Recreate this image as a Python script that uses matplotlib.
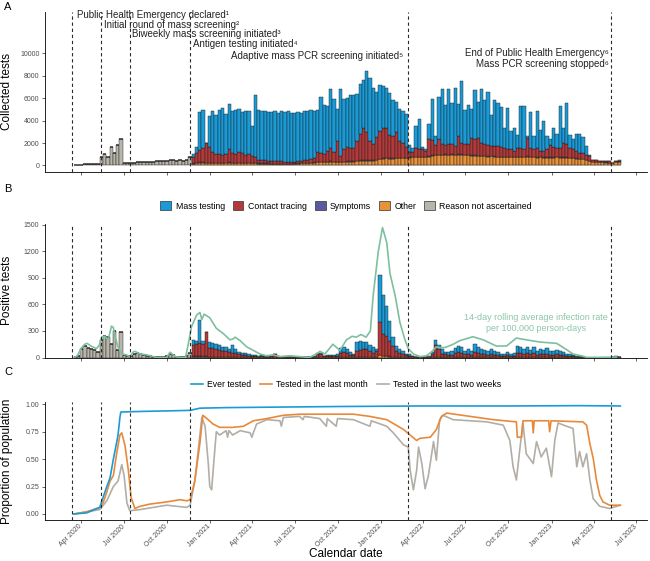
import numpy as np
import pandas as pd
import matplotlib
matplotlib.use("Agg")
import matplotlib.pyplot as plt
import matplotlib.dates as mdates
from matplotlib.patches import Patch
from matplotlib.lines import Line2D

plt.rcParams['font.family'] = ['Liberation Sans', 'DejaVu Sans']

# ---------------- data ----------------
# weekly bars, first week starting 2020-03-16 (167 weeks)
weeks = pd.date_range("2020-03-16", periods=167, freq="7D")

# Panel A: collected tests per week
a_unknown = [20, 30, 60, 100, 140, 150, 130, 110, 720, 1050, 750, 1600, 1100, 1850, 2400,
             180, 170, 180, 250, 300, 320, 320, 310, 330, 340, 360, 420, 430, 400, 450,
             470, 430, 450, 420, 450, 750] + [0] * 131
a_other = [0] * 36 + [
    150, 200, 250, 250, 200, 200, 180, 180, 200, 220, 200, 250, 220, 200, 200, 180, 180, 200,
    200, 180, 160, 150, 150, 150, 140, 140, 130, 130, 130, 130, 140, 150, 160, 170, 180, 200, 220, 250,
    300, 300, 280, 300, 320, 300, 300, 280, 300, 320, 330, 340, 350,
    400, 420, 400, 420, 430, 450,
    550, 600, 620, 600, 600, 620, 640, 650, 640,
    700, 720, 750, 760, 740, 760, 780,
    850, 900, 900, 920, 950, 900,
    950, 940, 960, 950, 920, 900, 880, 860,
    820, 800, 800, 780, 800, 780, 760, 760, 740,
    750, 740, 760, 740, 720, 740, 760, 740, 720, 700, 720,
    700, 700, 680, 700, 720, 700, 680, 680, 660, 640,
    600, 580, 560, 500,
    350, 300, 300, 280, 260, 250, 240, 180, 260, 300]
a_symptoms = [0] * 36 + [
    30, 40, 40, 50, 40, 40, 30, 30, 30, 30, 30, 40, 30, 30, 30, 30, 30, 30,
    30, 30, 20, 20, 20, 20, 20, 20, 20, 20, 20, 20, 20, 20, 20, 20, 20, 20, 20, 20,
    30, 30, 30, 30, 40, 30, 40, 30, 30, 30, 30, 30, 40,
    40, 50, 40, 40, 40, 40,
    50, 50, 50, 40, 40, 40, 40, 30, 30,
    30, 30, 30, 30, 30, 30, 40,
    40, 30, 40, 40, 30, 30,
    30, 30, 40, 30, 30, 30, 40, 40,
    40, 30, 30, 30, 30, 30, 30, 30, 30,
    30, 30, 30, 30, 30, 30, 40, 30, 30, 30, 30,
    30, 30, 30, 30, 30, 30, 30, 30, 30, 30,
    30, 20, 20, 20,
    20, 10, 10, 10, 10, 10, 10, 10, 10, 10]
a_contact = [0] * 36 + [
    550, 900, 1050, 1250, 1750, 1400, 1020, 820, 800, 680, 800, 1150, 880, 800, 1000, 920, 720, 800,
    600, 520, 340, 350, 300, 250, 260, 260, 220, 220, 170, 170, 160, 150, 190, 230, 270, 300, 330, 350,
    850, 800, 720, 1000, 1230, 900, 1800, 520, 1100, 1280, 1170, 1160, 1750,
    2400, 2880, 2500, 1680, 1470, 2050,
    2450, 2700, 2680, 2100, 2000, 2280, 1460, 1350, 960,
    450, 480, 750, 640, 660, 540, 1520,
    1350, 900, 1400, 980, 850, 1000,
    950, 760, 1640, 1050, 980, 1000, 1520, 1440,
    1580, 1200, 1100, 1020, 900, 920, 940, 840, 760,
    650, 660, 540, 760, 780, 660, 1640, 760, 680, 800, 580,
    600, 700, 1120, 900, 780, 800, 1320, 1220, 840, 760,
    700, 520, 540, 400,
    450, 200, 150, 140, 140, 130, 110, 40, 80, 120]
a_mass = [0] * 36 + [
    300, 500, 3450, 3400, 50, 2800, 3650, 3500, 3900, 4200, 3600, 4000, 3700, 3900, 3800, 3600, 3950, 3800,
    2650, 5600, 4450, 4350, 4350, 4350, 4350, 4400, 4350, 4450, 4450, 4500, 4400, 4400, 4400, 4300, 4350, 4300, 4350, 4250,
    3750, 4950, 4400, 4000, 5250, 4700, 2900, 6000, 4500, 4400, 4800, 4800, 4200,
    4450, 4250, 5500, 5650, 5000, 4000,
    4100, 3700, 3600, 3700, 3200, 2700, 2900, 2800, 2950,
    600, 300, 1950, 2700, 200, 100, 1400,
    3700, 800, 3750, 4850, 3600, 4850,
    3600, 5200, 2800, 5550, 3050, 3500, 2600, 4400,
    3200, 4800, 3900, 4700, 2800, 4100, 3800, 3600, 1800,
    3700, 1600, 2000, 1200, 3800, 3900, 200, 3200, 1200, 3300, 1800,
    2600, 1200, 500, 1700, 1300, 3800, 1300, 3600, 1200, 900,
    1500, 1700, 1400, 800,
    150, 0, 50, 0, 20, 0, 0, 0, 10, 10]

# Panel B: positive tests per week
b_unknown = [5, 20, 100, 130, 110, 100, 80, 60, 200, 240, 230, 150, 300, 90, 290,
             30, 20, 20, 40, 50, 40, 30, 20, 15, 10, 5, 5, 10, 15, 40,
             30, 10, 5, 10, 20, 50] + [0] * 131
b_other = [0] * 36 + [
    10, 10, 10, 10, 10, 5, 5, 5, 5, 5, 5, 5, 5, 5, 5, 3, 3, 3, 2, 2, 2, 2, 2, 2, 2,
    3, 2, 1, 1, 1, 1, 1, 1, 1, 1, 1, 1, 2,
    4, 4, 2, 2, 3, 2, 3,
    5, 5, 5, 3, 3,
    8, 8, 8, 8, 6, 5, 6,
    25, 15, 12, 10, 8, 5, 4, 3, 2,
    2, 1, 1, 1, 1, 1,
    1, 3, 8, 6,
    4, 3, 3, 3, 4, 5, 5, 3, 4, 3, 5, 4, 4, 3, 3, 4, 3, 2, 2, 2, 2, 2, 2, 4, 4, 3, 4, 3, 4, 3,
    3, 3, 3, 3, 2, 3, 2, 2, 2, 2, 1, 1, 1, 1,
    0, 0, 0, 0, 0, 0, 0, 0, 1, 1, 1]
b_symptoms = [0] * 36 + [
    2, 2, 2, 2, 2, 1, 1, 1, 1, 1, 1, 1, 1, 1, 1, 1, 1, 1, 0, 0, 0, 0, 0, 0, 0,
    1, 0, 0, 0, 0, 0, 0, 0, 0, 0, 0, 0, 0,
    1, 1, 0, 0, 0, 0, 0,
    1, 1, 1, 0, 0,
    1, 1, 1, 1, 1, 1, 1,
    4, 3, 2, 2, 1, 1, 1, 0, 0,
    0, 0, 0, 0, 0, 0,
    0, 0, 1, 1,
    1, 0, 0, 0, 1, 1, 1, 0, 1, 0, 1, 1, 1, 0, 0, 1, 0, 0, 0, 0, 0, 0, 0, 1, 1, 0, 1, 0, 1, 0,
    0, 0, 0, 0, 0, 0, 0, 0, 0, 0, 0, 0, 0, 0,
    0, 0, 0, 0, 0, 0, 0, 0, 0, 0, 0]
b_contact = [0] * 36 + [
    130, 140, 150, 140, 275, 105, 105, 90, 75, 70, 65, 60, 50, 50, 35, 27, 22, 17, 13, 10, 8, 10, 8, 6, 13,
    32, 8, 4, 2, 2, 2, 4, 2, 2, 2, 2, 4, 8,
    34, 31, 13, 13, 17, 13, 17,
    50, 55, 45, 27, 22,
    67, 77, 87, 87, 69, 50, 69,
    375, 250, 233, 180, 122, 70, 51, 32, 23,
    18, 11, 4, 4, 5, 7,
    9, 42, 135, 84,
    36, 32, 27, 27, 41, 55, 50, 32, 36, 27, 55, 41, 36, 32, 27, 36, 27, 23, 18, 18, 23, 18, 20, 46,
    41, 37, 51, 32, 41, 27, 37, 32, 37, 27, 26, 32, 26, 23, 18, 18, 14, 9, 9, 4,
    0, 0, 0, 0, 0, 0, 0, 0, 4, 7, 3]
b_mass = [0] * 36 + [
    60, 40, 260, 40, 5, 60, 50, 55, 60, 45, 45, 35, 85, 40, 20, 25, 20, 15, 15, 13, 10, 13, 10, 7, 5,
    5, 5, 3, 2, 2, 2, 3, 2, 2, 2, 2, 3, 5,
    12, 10, 5, 10, 10, 10, 15,
    50, 53, 45, 27, 15,
    95, 95, 83, 75, 68, 60, 25,
    525, 435, 330, 225, 96, 55, 40, 33, 20,
    18, 8, 3, 3, 4, 2,
    5, 12, 53, 53,
    54, 30, 30, 38, 60, 72, 65, 40, 54, 38, 90, 68, 54, 48, 45, 54, 38, 32, 18, 18, 32, 25, 28, 82,
    68, 54, 65, 48, 68, 45, 54, 48, 65, 45, 40, 48, 40, 32, 25, 25, 15, 10, 10, 3,
    0, 0, 0, 0, 0, 0, 0, 0, 3, 4, 2]

# 14-day rolling average infection rate per 100,000 person-days
rate_dates = ["2020-03-18", "2020-03-24", "2020-04-02", "2020-04-09", "2020-04-14", "2020-04-22",
              "2020-05-04", "2020-05-10", "2020-05-15", "2020-05-22", "2020-05-29", "2020-06-05",
              "2020-06-09", "2020-06-12", "2020-06-19", "2020-06-27", "2020-07-07", "2020-07-14",
              "2020-07-21", "2020-07-25", "2020-08-05", "2020-08-19", "2020-09-02", "2020-09-09",
              "2020-10-01", "2020-10-08", "2020-10-19", "2020-10-29", "2020-11-10", "2020-11-16",
              "2020-11-23", "2020-12-04", "2020-12-11", "2020-12-15", "2020-12-20", "2021-01-01",
              "2021-01-15", "2021-01-30", "2021-02-13", "2021-02-20", "2021-02-24", "2021-03-07",
              "2021-03-21", "2021-04-04", "2021-04-18", "2021-05-02", "2021-05-16", "2021-05-31",
              "2021-06-21", "2021-07-12", "2021-08-02", "2021-08-20", "2021-08-24", "2021-09-04",
              "2021-09-21", "2021-10-06", "2021-10-20", "2021-11-01", "2021-11-10", "2021-11-20",
              "2021-12-01", "2021-12-10", "2021-12-16", "2021-12-27", "2022-01-05", "2022-01-14",
              "2022-01-21", "2022-02-01", "2022-02-11", "2022-02-22", "2022-03-01", "2022-03-12",
              "2022-03-26", "2022-04-09", "2022-04-19", "2022-04-30", "2022-05-07", "2022-05-20",
              "2022-06-05", "2022-06-19", "2022-07-17", "2022-08-08", "2022-09-05", "2022-09-27",
              "2022-10-18", "2022-11-08", "2022-12-07", "2023-01-12", "2023-01-26", "2023-02-16",
              "2023-03-09", "2023-03-17", "2023-04-14", "2023-05-20"]
rate_values = [0, 20, 110, 150, 160, 130,
               100, 140, 230, 240, 200, 355,
               340, 250, 120, 40, 30, 5,
               60, 70, 40, 30, 10, 0,
               0, 60, 10, 0, 0, 150,
               350, 480, 510, 430, 490, 450,
               330, 270, 200, 210, 230, 190,
               120, 80, 40, 20, 30, 10,
               20, 10, 0, 50, 70, 40,
               150, 80, 200, 240, 230, 260,
               230, 300, 700, 1200, 1470, 1300,
               950, 700, 400, 200, 100, 40,
               10, 20, 60, 120, 110, 115,
               150, 190, 235, 200, 130, 130,
               220, 200, 175, 160, 113, 40,
               15, 2, 2, 5]

# Panel C: proportion of population
ever_dates = ["2020-03-17", "2020-04-13", "2020-05-11", "2020-05-18", "2020-05-26", "2020-06-02",
              "2020-06-09", "2020-06-16", "2020-06-19", "2020-06-23", "2020-06-25", "2020-08-05",
              "2020-10-01", "2020-11-20", "2020-12-11", "2021-02-05", "2021-06-01", "2021-10-01",
              "2022-04-01", "2022-10-01", "2023-03-01", "2023-05-28"]
ever_values = [0.0, 0.01, 0.06, 0.15, 0.25, 0.33, 0.5, 0.65, 0.72, 0.88, 0.93, 0.935,
               0.94, 0.945, 0.965, 0.97, 0.975, 0.98, 0.985, 0.985, 0.988, 0.985]

month_dates = ["2020-03-17", "2020-04-13", "2020-05-11", "2020-05-18", "2020-05-26", "2020-06-02",
               "2020-06-09", "2020-06-16", "2020-06-23", "2020-06-27", "2020-07-04", "2020-07-11",
               "2020-07-17", "2020-07-25", "2020-08-05", "2020-08-26", "2020-10-01", "2020-10-29",
               "2020-11-13", "2020-11-20", "2020-11-30", "2020-12-11", "2020-12-17", "2020-12-26",
               "2021-01-08", "2021-01-22", "2021-02-19", "2021-03-14", "2021-04-04", "2021-05-03",
               "2021-06-07", "2021-07-12", "2021-09-14", "2021-11-04", "2021-12-09", "2022-01-14",
               "2022-02-19", "2022-03-05", "2022-03-19", "2022-03-26", "2022-04-17", "2022-04-30",
               "2022-05-11", "2022-05-22", "2022-07-11", "2022-08-30", "2022-10-18", "2022-10-20",
               "2022-10-29", "2022-11-01", "2022-11-21", "2022-11-23", "2022-11-25", "2022-12-26",
               "2022-12-28", "2022-12-31", "2023-03-09", "2023-03-17", "2023-03-24", "2023-03-31",
               "2023-04-07", "2023-04-14", "2023-04-21", "2023-05-05", "2023-05-28"]
month_values = [0.0, 0.02, 0.06, 0.1, 0.2, 0.3,
                0.35, 0.55, 0.72, 0.74, 0.62, 0.4,
                0.15, 0.05, 0.07, 0.09, 0.11, 0.13,
                0.12, 0.13, 0.3, 0.65, 0.9, 0.87,
                0.82, 0.79, 0.79, 0.8, 0.85, 0.87,
                0.9, 0.91, 0.91, 0.91, 0.89, 0.86,
                0.77, 0.72, 0.67, 0.69, 0.7, 0.77,
                0.89, 0.92, 0.89, 0.86, 0.84, 0.7,
                0.7, 0.85, 0.85, 0.74, 0.85, 0.85,
                0.75, 0.85, 0.84, 0.81, 0.64, 0.51,
                0.31, 0.17, 0.11, 0.08, 0.08]

twoweek_dates = ["2020-03-17", "2020-05-11", "2020-05-26", "2020-06-09", "2020-06-19", "2020-06-27",
                 "2020-07-02", "2020-07-08", "2020-07-14", "2020-08-05", "2020-10-01", "2020-11-13",
                 "2020-11-20", "2020-11-30", "2020-12-15", "2020-12-22", "2020-12-29", "2021-01-01",
                 "2021-01-05", "2021-01-12", "2021-01-15", "2021-01-22", "2021-02-05", "2021-02-08",
                 "2021-02-11", "2021-02-19", "2021-03-07", "2021-03-28", "2021-04-01", "2021-04-04",
                 "2021-04-11", "2021-05-03", "2021-05-31", "2021-06-03", "2021-06-07", "2021-07-12",
                 "2021-07-19", "2021-07-22", "2021-08-24", "2021-09-07", "2021-09-09", "2021-09-28",
                 "2021-10-01", "2021-11-04", "2021-12-09", "2021-12-12", "2022-01-14", "2022-01-28",
                 "2022-02-19", "2022-03-01", "2022-03-05", "2022-03-12", "2022-03-19", "2022-03-23",
                 "2022-03-30", "2022-04-06", "2022-04-13", "2022-04-24", "2022-04-30", "2022-05-07",
                 "2022-05-14", "2022-06-05", "2022-08-16", "2022-09-20", "2022-10-04", "2022-10-11",
                 "2022-10-18", "2022-10-25", "2022-11-01", "2022-11-08", "2022-11-23", "2022-11-30",
                 "2022-12-10", "2022-12-21", "2023-01-01", "2023-01-08", "2023-01-15", "2023-02-02",
                 "2023-02-16", "2023-02-24", "2023-03-02", "2023-03-09", "2023-03-17", "2023-03-24",
                 "2023-03-31", "2023-04-14", "2023-05-05", "2023-05-28"]
twoweek_values = [0.0, 0.04, 0.12, 0.25, 0.3, 0.45,
                  0.35, 0.1, 0.03, 0.04, 0.08, 0.06,
                  0.08, 0.3, 0.88, 0.8, 0.45, 0.25,
                  0.22, 0.6, 0.75, 0.72, 0.76, 0.7,
                  0.76, 0.72, 0.76, 0.74, 0.7, 0.74,
                  0.82, 0.86, 0.85, 0.8, 0.88, 0.89,
                  0.86, 0.89, 0.87, 0.8, 0.87, 0.8,
                  0.87, 0.86, 0.8, 0.85, 0.8, 0.74,
                  0.63, 0.61, 0.4, 0.22, 0.4, 0.61,
                  0.46, 0.23, 0.35, 0.66, 0.49, 0.86,
                  0.9, 0.86, 0.84, 0.81, 0.67, 0.43,
                  0.31, 0.58, 0.83, 0.55, 0.46, 0.66,
                  0.52, 0.6, 0.34, 0.67, 0.83, 0.8,
                  0.78, 0.43, 0.57, 0.43, 0.55, 0.31,
                  0.14, 0.07, 0.05, 0.08]

event_dates = ["2020-03-13", "2020-05-13", "2020-07-14", "2020-11-20", "2022-02-28", "2023-05-09"]

categories = ["Mass testing", "Contact tracing", "Symptoms", "Other", "Reason not ascertained"]
cat_colors = ["#1A9BD7", "#B23A3B", "#5B5AA0", "#E8923A", "#B8B5AA"]

# ---------------- figure ----------------
fig = plt.figure(figsize=(6.5, 5.61), dpi=100)
ax_a = fig.add_axes([45 / 650, 1 - 172 / 561, 602 / 650, 160 / 561])
ax_b = fig.add_axes([45 / 650, 1 - 357.5 / 561, 602 / 650, 133.5 / 561])
ax_c = fig.add_axes([45 / 650, 1 - 520 / 561, 602 / 650, 118.3 / 561])

xmin, xmax = pd.Timestamp("2020-01-15"), pd.Timestamp("2023-07-24")
ev = pd.to_datetime(event_dates)
tick_col = "#4D4D4D"


def stacked(ax, unknown, other, symptoms, contact, mass):
    layers = [unknown, other, symptoms, contact, mass]
    colors = [cat_colors[4], cat_colors[3], cat_colors[2], cat_colors[1], cat_colors[0]]
    bottom = np.zeros(len(weeks))
    for vals, col in zip(layers, colors):
        vals = np.array(vals, dtype=float)
        ax.bar(weeks, vals, bottom=bottom, width=7, align="edge", color=col,
               edgecolor="#1a1a1a", linewidth=0.3, zorder=2)
        bottom = bottom + vals


def style(ax):
    ax.set_xlim(xmin, xmax)
    for s in ["top", "right"]:
        ax.spines[s].set_visible(False)
    for s in ["left", "bottom"]:
        ax.spines[s].set_linewidth(0.6)
    ax.xaxis.set_major_locator(mdates.MonthLocator(bymonth=[1, 4, 7, 10]))
    ax.xaxis.set_major_formatter(mdates.DateFormatter("%b %Y"))
    ax.tick_params(labelsize=5, colors=tick_col, length=2.5, width=0.6, pad=1.5)
    for d in ev:
        ax.axvline(d, color="#2b2b2b", linestyle=(0, (3, 2.5)), linewidth=0.8, zorder=5)
    ax.yaxis.set_label_coords(-0.053, 0.5)


# ----- Panel A -----
stacked(ax_a, a_unknown, a_other, a_symptoms, a_contact, a_mass)
style(ax_a)
ax_a.set_ylim(-590, 13700)
ax_a.set_yticks([0, 2000, 4000, 6000, 8000, 10000])
ax_a.tick_params(axis="x", labelbottom=False)
ax_a.set_ylabel("Collected tests", fontsize=8.5)

ann_kw = dict(fontsize=7, va="center", textcoords="offset points", color="#222222")
ax_a.annotate("Public Health Emergency declared¹", xy=(ev[0], 13400), xytext=(3.5, 0), ha="left", **ann_kw)
ax_a.annotate("Initial round of mass screening²", xy=(ev[1], 12550), xytext=(2.5, 0), ha="left", **ann_kw)
ax_a.annotate("Biweekly mass screening initiated³", xy=(ev[2], 11700), xytext=(1.5, 0), ha="left", **ann_kw)
ax_a.annotate("Antigen testing initiated⁴", xy=(ev[3], 10800), xytext=(2, 0), ha="left", **ann_kw)
ax_a.annotate("Adaptive mass PCR screening initiated⁵", xy=(ev[4], 9750), xytext=(-3, 0), ha="right", **ann_kw)
ax_a.annotate("End of Public Health Emergency⁶", xy=(ev[5], 10050), xytext=(-2, 0), ha="right", **ann_kw)
ax_a.annotate("Mass PCR screening stopped⁶", xy=(ev[5], 9100), xytext=(-2, 0), ha="right", **ann_kw)

# ----- Panel B -----
stacked(ax_b, b_unknown, b_other, b_symptoms, b_contact, b_mass)
ax_b.plot(pd.to_datetime(rate_dates), rate_values, color="#7DBF9F", linewidth=1.2, zorder=4)
style(ax_b)
ax_b.set_ylim(0, 1510)
ax_b.set_yticks([0, 300, 600, 900, 1200, 1500])
ax_b.tick_params(axis="x", labelbottom=False)
ax_b.set_ylabel("Positive tests", fontsize=8.5)
ax_b.text(pd.Timestamp("2022-11-28"), 393,
          "14-day rolling average infection rate\nper 100,000 person-days",
          ha="center", va="center", fontsize=6.5, color="#8CC6AB", linespacing=1.35)

handles = [Patch(facecolor=c, edgecolor="#333333", linewidth=0.5) for c in cat_colors]
ax_b.legend(handles, categories, loc="center", bbox_to_anchor=(0.5, 1.135), ncol=5,
            frameon=False, fontsize=6.3, handlelength=1.25, handleheight=1.25,
            handletextpad=0.5, columnspacing=0.9, borderaxespad=0)

# ----- Panel C -----
ax_c.plot(pd.to_datetime(ever_dates), ever_values, color="#1A9BD7", linewidth=1.2, zorder=4)
ax_c.plot(pd.to_datetime(month_dates), month_values, color="#E8893A", linewidth=1.2, zorder=3)
ax_c.plot(pd.to_datetime(twoweek_dates), twoweek_values, color="#B2AEA7", linewidth=1.2, zorder=2)
style(ax_c)
ax_c.set_ylim(-0.055, 1.024)
ax_c.set_yticks([0, 0.25, 0.5, 0.75, 1.0])
ax_c.set_yticklabels(["0.00", "0.25", "0.50", "0.75", "1.00"])
ax_c.tick_params(axis="x", pad=1.5)
ax_c.set_ylabel("Proportion of population", fontsize=8.5)
ax_c.set_xlabel("Calendar date", fontsize=8.5)
ax_c.xaxis.set_label_coords(0.5, -0.235)
plt.setp(ax_c.get_xticklabels(), rotation=45, ha="right", va="center", rotation_mode="anchor")

line_handles = [Line2D([], [], color=c, linewidth=1.2) for c in ["#1A9BD7", "#E8893A", "#B2AEA7"]]
ax_c.legend(line_handles, ["Ever tested", "Tested in the last month", "Tested in the last two weeks"],
            loc="center", bbox_to_anchor=(0.5, 1.144), ncol=3, frameon=False, fontsize=6.2,
            handlelength=1.4, handletextpad=0.5, columnspacing=1.0, borderaxespad=0)

# panel letters
fig.text(4 / 650, 1 - 7 / 561, "A", fontsize=8, va="center", ha="left")
fig.text(4 / 650, 1 - 189 / 561, "B", fontsize=8, va="center", ha="left")
fig.text(4 / 650, 1 - 372 / 561, "C", fontsize=8, va="center", ha="left")

fig.savefig("out.png", dpi=100)
